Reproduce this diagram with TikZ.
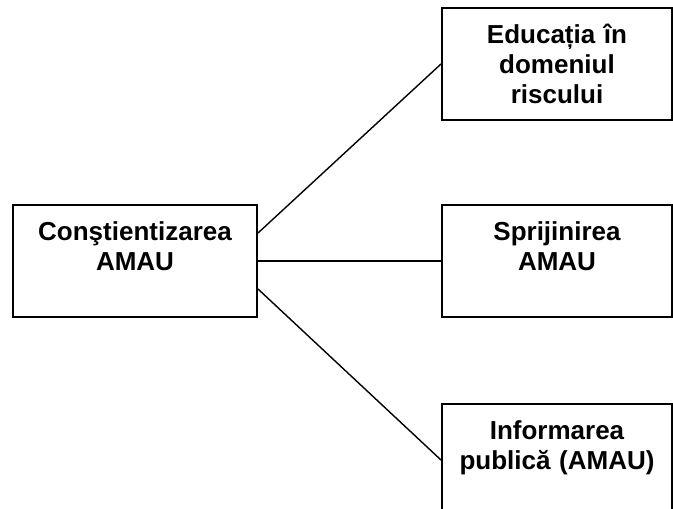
\documentclass[tikz,border=0pt]{standalone}
\usepackage{fontspec}
\setmainfont{Liberation Sans}
\usetikzlibrary{positioning}

\begin{document}
\begin{tikzpicture}[
    x=1pt, y=-1pt,
    node distance=83pt,
    box/.style={rectangle, draw=black, line width=2pt, fill=white, align=center, inner xsep=5pt, inner ysep=16.5pt, text height=19pt, text depth=60pt, font=\fontsize{26}{30}\selectfont\bfseries},
    link/.style={line width=1.4pt, black}
]
    \useasboundingbox (0,0) rectangle (673,509);

    % ========== Left box ==========
    \node (constient) [box, text width=234pt, anchor=north west] at (12,204) {Conştientizarea\\AMAU};

    % ========== Right boxes ==========
    \node (sprijin) [box, text width=220pt, right=183pt of constient] {Sprijinirea\\AMAU};
    \node (educatia) [box, text width=220pt, above=83pt of sprijin] {Educația în\\domeniul\\riscului};
    \node (informare) [box, text width=220pt, below=85pt of sprijin] {Informarea\\publică (AMAU)};

    % Connectors
    \draw [link] ([yshift=28pt]constient.east) -- (educatia.west);
    \draw [link] (constient.east) -- (sprijin.west);
    \draw [link] ([yshift=-28pt]constient.east) -- (informare.west);
\end{tikzpicture}
\end{document}
